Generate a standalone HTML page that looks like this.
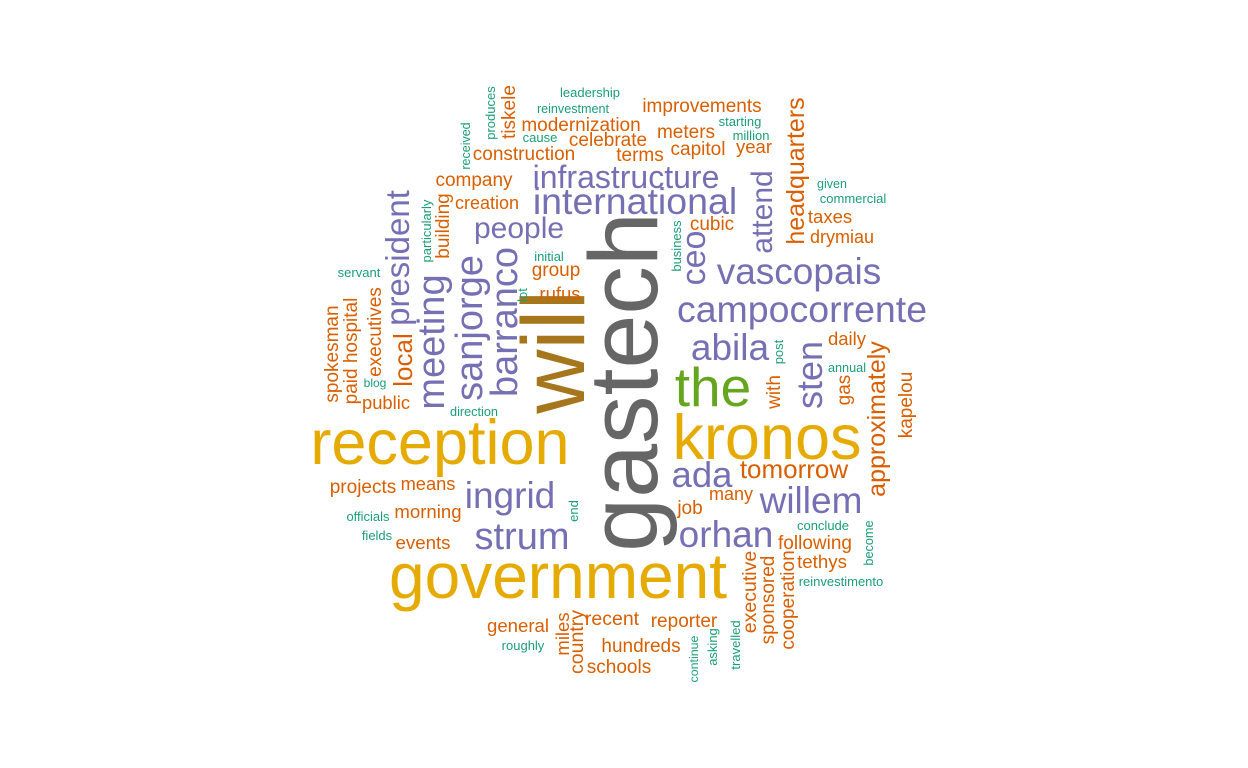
<!DOCTYPE html>
<html><head><meta charset="utf-8"><style>
html,body{margin:0;padding:0;background:#fff;width:1248px;height:768px;overflow:hidden}
svg{display:block}
text{font-family:"Liberation Sans",Arial,sans-serif}
</style></head><body>
<svg id="cloud" width="1248" height="768" viewBox="0 0 1248 768"></svg>
<script>
// word, frequency-size (px), colour group
const words = ["gastech","will","reception","government","kronos","the","campocorrente","vascopais","international","infrastructure","people","ingrid","strum","ada","abila","orhan","willem","tomorrow","approximately","sten","ceo","attend","headquarters","president","meeting","sanjorge","barranco","local","executives","paid hospital","spokesman","servant","particularly","building","company","creation","construction","modernization","celebrate","terms","improvements","meters","capitol","year","starting","million","leadership","reinvestment","cause","tiskele","produces","received","cubic","business","given","commercial","taxes","drymiau","initial","group","rufus","lot","daily","annual","post","with","gas","kapelou","job","many","conclude","become","following","tethys","reinvestimento","executive","sponsored","cooperation","reporter","hundreds","schools","recent","continue","asking","travelled","miles","country","general","roughly","end","fields","officials","events","morning","projects","means","public","blog","direction"];
const sizes = [97,89,63,64,63,55,37.5,37,37.5,32,30,37,38,36.5,37,37,37,26,25,36,34,30,25,33,38,38,38,26,19,19,19,13,13,19,19,18,19,19,19,19,19,19,19,18.5,13,13,13,12.6,13,19,13,12.5,19,13,12.5,13,18.5,18,13,19,18.5,13,18.5,12.7,13,19,19,19,19,18,13,12.7,19,18.7,13,19.5,19,19,19,19,19,19.5,12.4,13,13,18.5,19.5,18.6,13,13,13,13,18.7,18.6,19,18.3,18.4,12,12.7];
const groups = ["g","b","y","y","y","gr","p","p","p","p","p","p","p","p","p","p","p","o","o","p","p","p","o","p","p","p","p","o","o","o","o","t","t","o","o","o","o","o","o","o","o","o","o","o","t","t","t","t","t","o","t","t","o","t","t","t","o","o","t","o","o","t","o","t","t","o","o","o","o","o","t","t","o","o","t","o","o","o","o","o","o","o","t","t","t","o","o","o","t","t","t","t","o","o","o","o","o","t","t"];
const palette = {g:"#666666",b:"#A6761D",y:"#E6AB02",gr:"#66A61E",p:"#7570B3",o:"#D95F02",t:"#1B9E77"};
// layout: [anchor x, anchor y, rotated]  (horizontal: centre-x, baseline; vertical: baseline-x, centre-y)
const layout = [[657,382,1],[584,352,1],[440,464,0],[558,598,0],[767,459,0],[713,406,0],[802,322,0],[799,284,0],[635,214,0],[626,188,0],[519,238,0],[510,508,0],[522,549,0],[702,487,0],[730,360,0],[726,547,0],[811,513,0],[794,478,0],[885,419,1],[822,375,1],[705,258,1],[772,212,1],[804,171,1],[409,258,1],[444,342,1],[482,328,1],[517,322,1],[412,360,1],[381,332,1],[357,351,1],[338,354,1],[359,277,0],[431,231,1],[449,226,1],[474,186,0],[487,209,0],[524,160,0],[581,131,0],[608,146,0],[640,161,0],[702,112,0],[686,138,0],[698,155,0],[754,153,0],[740,126,0],[751,140,0],[590,97,0],[573,113,0],[540,142,0],[515,112,1],[495,113,1],[470,146,1],[712,230,0],[681,246,1],[832,188,0],[853,203,0],[830,223,0],[842,243,0],[549,261,0],[556,276,0],[560,300,0],[527,295,1],[847,345,0],[847,372,0],[783,352,1],[780,392,1],[850,390,1],[912,405,1],[690,514,0],[731,500,0],[823,530,0],[873,543,1],[815,549,0],[822,568,0],[841,586,0],[756,592,1],[774,600,1],[794,600,1],[684,627,0],[641,652,0],[619,673,0],[612,625,0],[698,659,1],[717,647,1],[740,645,1],[569,634,1],[583,642,1],[518,632,0],[523,650,0],[578,511,1],[377,540,0],[368,521,0],[423,549,0],[428,518,0],[363,493,0],[428,490,0],[386,409,0],[375,387,0],[474,416,0]];
const NS = "http://www.w3.org/2000/svg";
const svg = document.getElementById("cloud");
words.forEach((w, i) => {
  const t = document.createElementNS(NS, "text");
  const [x, y, r] = layout[i];
  t.setAttribute("x", x);
  t.setAttribute("y", y);
  t.setAttribute("font-size", sizes[i]);
  t.setAttribute("fill", palette[groups[i]]);
  t.setAttribute("text-anchor", "middle");
  if (r) t.setAttribute("transform", "rotate(-90 " + x + " " + y + ")");
  t.textContent = w;
  
  
  svg.appendChild(t);
});
</script>
</body></html>
